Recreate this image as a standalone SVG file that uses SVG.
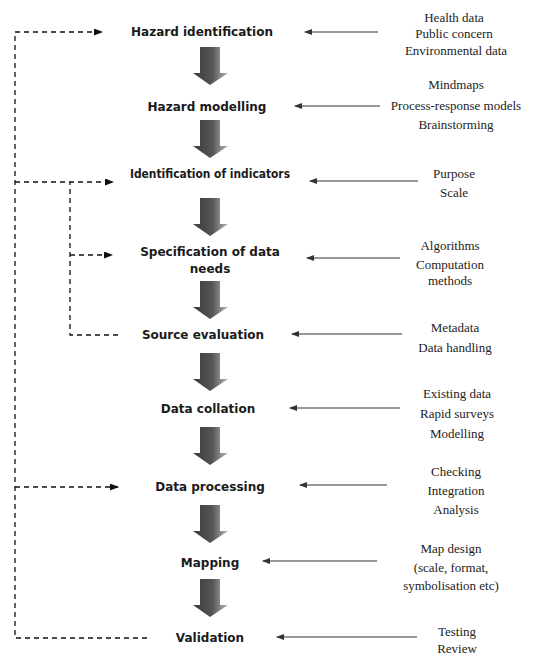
<svg xmlns="http://www.w3.org/2000/svg" width="536" height="655" viewBox="0 0 536 655">
<style>
.node{font-family:"DejaVu Sans","Liberation Sans",sans-serif;font-weight:bold;font-size:12px;fill:#1a1a1a;text-anchor:middle}
.src{font-family:"Liberation Serif","Times New Roman",serif;font-size:13px;fill:#222;text-anchor:middle}
.thin{stroke:#333;stroke-width:1.2;fill:none}
.dash{stroke:#111;stroke-width:1.3;fill:none;stroke-dasharray:5,4}
</style>
<defs>
<marker id="ah" markerWidth="8" markerHeight="6" refX="7" refY="3" orient="auto" markerUnits="userSpaceOnUse">
<path d="M0,0 L8,3 L0,6 Z" fill="#333"/>
</marker>
<marker id="dh" markerWidth="9" markerHeight="7" refX="8" refY="3.5" orient="auto" markerUnits="userSpaceOnUse">
<path d="M0,0 L9,3.5 L0,7 Z" fill="#111"/>
</marker>
<linearGradient id="bg" x1="0" y1="0" x2="1" y2="0">
<stop offset="0" stop-color="#3a3a3a"/>
<stop offset="0.55" stop-color="#555"/>
<stop offset="0.8" stop-color="#8c8c8c"/>
<stop offset="1" stop-color="#b5b5b5"/>
</linearGradient>
<path id="blk" d="M200,0 H220 V26 H228 L210,38 L193,26 H200 Z" fill="url(#bg)"/>
</defs>
<rect width="536" height="655" fill="#fff"/>

<g id="flow-arrows">
<use href="#blk" y="47"/>
<use href="#blk" y="120"/>
<use href="#blk" y="198"/>
<use href="#blk" y="281"/>
<use href="#blk" y="353"/>
<use href="#blk" y="427"/>
<use href="#blk" y="505"/>
<use href="#blk" y="579"/>
</g>

<g id="connectors">
<line class="thin" x1="378" y1="32" x2="305" y2="32" marker-end="url(#ah)"/>
<line class="thin" x1="380" y1="106" x2="295" y2="106" marker-end="url(#ah)"/>
<line class="thin" x1="418" y1="181" x2="310" y2="181" marker-end="url(#ah)"/>
<line class="thin" x1="400" y1="258" x2="307" y2="258" marker-end="url(#ah)"/>
<line class="thin" x1="402" y1="334" x2="292" y2="334" marker-end="url(#ah)"/>
<line class="thin" x1="400" y1="408" x2="290" y2="408" marker-end="url(#ah)"/>
<line class="thin" x1="387" y1="485" x2="300" y2="485" marker-end="url(#ah)"/>
<line class="thin" x1="377" y1="561" x2="263" y2="561" marker-end="url(#ah)"/>
<line class="thin" x1="417" y1="637" x2="277" y2="637" marker-end="url(#ah)"/>

<path class="dash" d="M147,638 H15 V32 H102" marker-end="url(#dh)"/>
<line class="dash" x1="15" y1="182" x2="113" y2="182" marker-end="url(#dh)"/>
<line class="dash" x1="15" y1="487" x2="118" y2="487" marker-end="url(#dh)"/>
<path class="dash" d="M118,335 H70 V182"/>
<line class="dash" x1="70" y1="255" x2="112" y2="255" marker-end="url(#dh)"/>
</g>

<g id="hazard-identification"><text class="node" x="202" y="36">Hazard identification</text></g>
<g id="hazard-modelling"><text class="node" x="207" y="111">Hazard modelling</text></g>
<g id="identification-of-indicators"><text class="node" x="210" y="178" textLength="160" lengthAdjust="spacingAndGlyphs">Identification of indicators</text></g>
<g id="specification-of-data-needs"><text class="node" x="210" y="256">Specification of data</text><text class="node" x="210" y="273">needs</text></g>
<g id="source-evaluation"><text class="node" x="203" y="339">Source evaluation</text></g>
<g id="data-collation"><text class="node" x="208" y="413">Data collation</text></g>
<g id="data-processing"><text class="node" x="210" y="491">Data processing</text></g>
<g id="mapping"><text class="node" x="210" y="567">Mapping</text></g>
<g id="validation"><text class="node" x="210" y="642">Validation</text></g>

<g id="inputs-hazard-identification">
<text class="src" x="454" y="22">Health data</text>
<text class="src" x="454" y="38">Public concern</text>
<text class="src" x="456" y="55">Environmental data</text>
</g>
<g id="inputs-hazard-modelling">
<text class="src" x="456" y="89">Mindmaps</text>
<text class="src" x="456" y="110">Process-response models</text>
<text class="src" x="456" y="129">Brainstorming</text>
</g>
<g id="inputs-indicators">
<text class="src" x="454" y="178">Purpose</text>
<text class="src" x="454" y="197">Scale</text>
</g>
<g id="inputs-specification">
<text class="src" x="450" y="250">Algorithms</text>
<text class="src" x="450" y="269">Computation</text>
<text class="src" x="450" y="285">methods</text>
</g>
<g id="inputs-source">
<text class="src" x="455" y="332">Metadata</text>
<text class="src" x="455" y="352">Data handling</text>
</g>
<g id="inputs-collation">
<text class="src" x="457" y="398">Existing data</text>
<text class="src" x="457" y="418">Rapid surveys</text>
<text class="src" x="457" y="438">Modelling</text>
</g>
<g id="inputs-processing">
<text class="src" x="456" y="476">Checking</text>
<text class="src" x="456" y="495">Integration</text>
<text class="src" x="456" y="514">Analysis</text>
</g>
<g id="inputs-mapping">
<text class="src" x="451" y="553">Map design</text>
<text class="src" x="451" y="572">(scale, format,</text>
<text class="src" x="451" y="590">symbolisation etc)</text>
</g>
<g id="inputs-validation">
<text class="src" x="457" y="636">Testing</text>
<text class="src" x="457" y="653">Review</text>
</g>
</svg>
